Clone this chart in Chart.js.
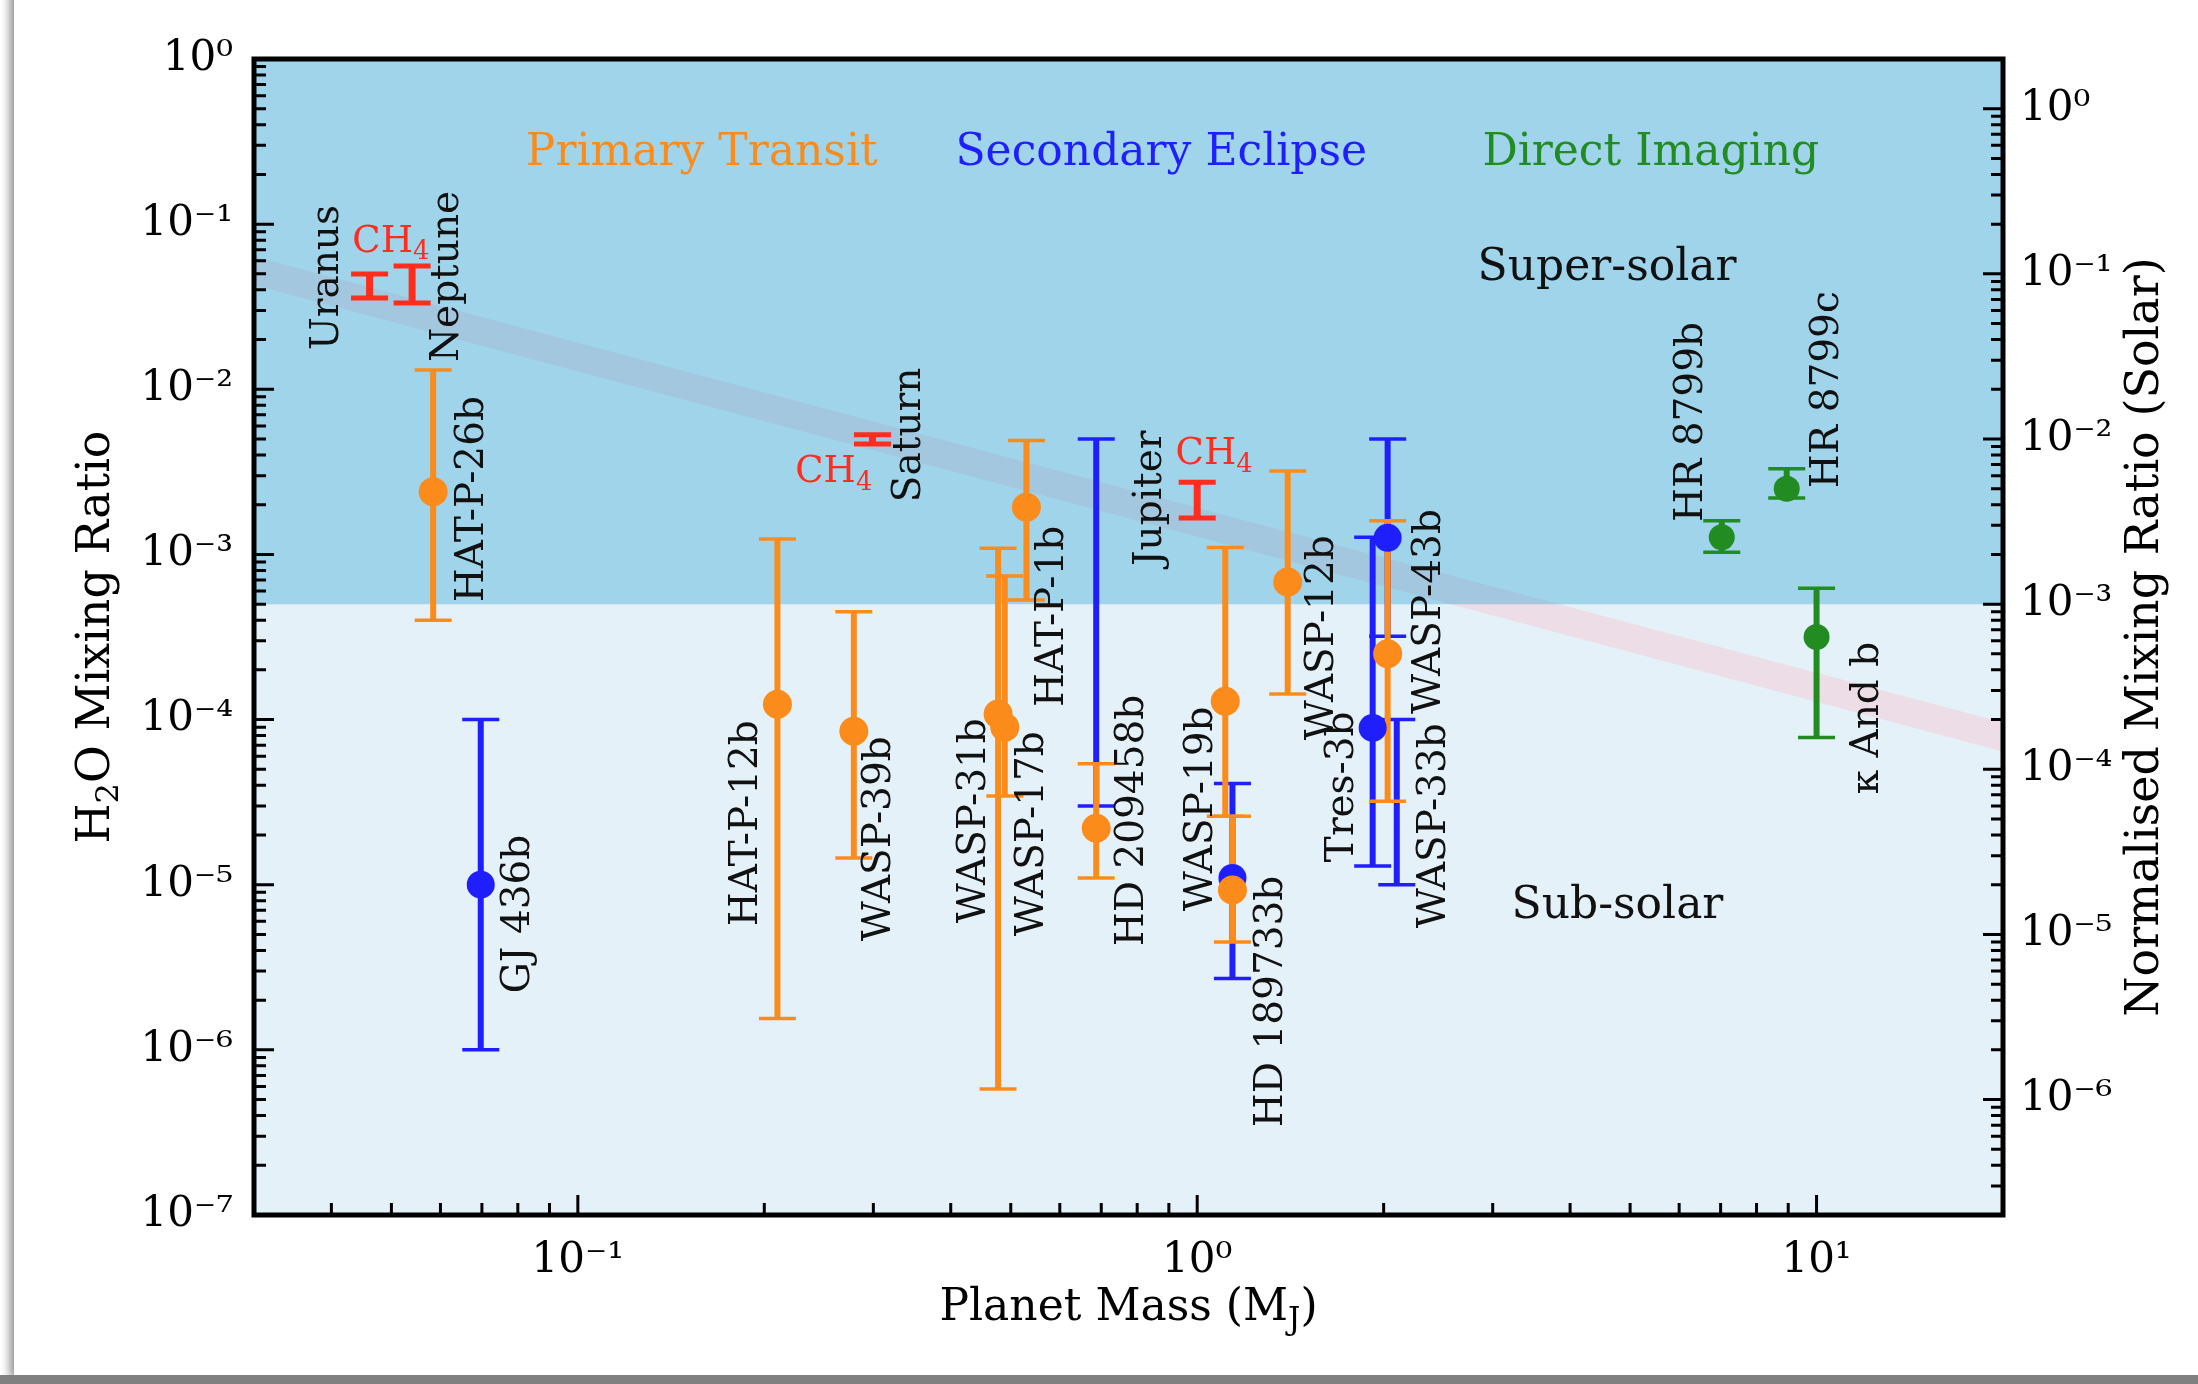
<!DOCTYPE html>
<html><head><meta charset="utf-8">
<script src="https://cdn.jsdelivr.net/npm/chart.js@4.4.0/dist/chart.umd.min.js"></script>
<style>
html,body{margin:0;padding:0;background:#fff;width:2198px;height:1384px;overflow:hidden;}
#card{position:absolute;left:14px;top:-20px;width:2200px;height:1395px;background:#fff;box-shadow:-4px 3px 9px rgba(0,0,0,0.45);}
#strip{position:absolute;left:0;top:1375px;width:2198px;height:9px;background:#808080;}
#wrap{position:absolute;left:0;top:0;width:2198px;height:1384px;}
</style></head><body>
<div id="card"></div><div id="strip"></div>
<div id="wrap"><canvas id="c" width="2198" height="1384"></canvas></div>
<script>
// ---------------- data ----------------
const transitNames = ['HAT-P-26b','HAT-P-12b','WASP-39b','WASP-31b','WASP-17b','HAT-P-1b','HD 209458b','WASP-19b','HD 189733b','WASP-12b','WASP-43b'];
const transitMass  = [0.0584,0.210,0.279,0.477,0.489,0.530,0.687,1.11,1.14,1.40,2.03];
const transitH2O   = [2.4e-3,1.24e-4,8.5e-5,1.08e-4,9.0e-5,1.93e-3,2.2e-5,1.29e-4,9.3e-6,6.8e-4,2.5e-4];
const transitLow   = [4.0e-4,1.55e-6,1.45e-5,5.8e-7,3.45e-5,5.3e-4,1.1e-5,2.6e-5,4.5e-6,1.43e-4,3.2e-5];
const transitHigh  = [1.31e-2,1.24e-3,4.5e-4,1.09e-3,7.4e-4,4.9e-3,5.4e-5,1.1e-3,2.6e-5,3.2e-3,1.6e-3];

const eclipseNames = ['GJ 436b','HD 209458b','HD 189733b','Tres-3b','WASP-43b','WASP-33b'];
const eclipseMass  = [0.0697,0.687,1.14,1.92,2.03,2.10];
const eclipseH2O   = [1.0e-5,null,1.1e-5,8.9e-5,1.26e-3,null];
const eclipseLow   = [1.0e-6,3.0e-5,2.7e-6,1.3e-5,3.2e-4,1.0e-5];
const eclipseHigh  = [1.0e-4,5.0e-3,4.1e-5,1.27e-3,5.0e-3,1.0e-4];

const imagingNames = ['HR 8799b','HR 8799c','κ And b'];
const imagingMass  = [7.03,8.95,10.0];
const imagingH2O   = [1.27e-3,2.5e-3,3.16e-4];
const imagingLow   = [1.03e-3,2.2e-3,7.8e-5];
const imagingHigh  = [1.6e-3,3.3e-3,6.25e-4];

const solarNames   = ['Uranus','Neptune','Saturn','Jupiter'];
const solarMass    = [0.0461,0.054,0.299,1.0];
const solarCH4Low  = [0.0357,0.0333,4.66e-3,1.66e-3];
const solarCH4High = [0.0499,0.0557,5.3e-3,2.74e-3];

const bandMass = [0.03,20];
const bandLow  = [0.0428,6.4e-5];
const bandHigh = [0.0637,9.6e-5];

const SOLAR_H2O = 5e-4;
const X_MIN = 0.03, X_MAX = 20, Y_MIN = 1e-7, Y_MAX = 1;
const Y2_MIN = 2e-7, Y2_MAX = 2;

// text annotations (data coordinates)
const labelText = ['Uranus','Neptune','HAT-P-26b','GJ 436b','HAT-P-12b','WASP-39b','WASP-31b','WASP-17b','HAT-P-1b','Saturn','HD 209458b','Jupiter','WASP-19b','HD 189733b','WASP-12b','Tres-3b','WASP-43b','WASP-33b','HR 8799b','HR 8799c','κ And b'];
const labelMass = [0.04096,0.0640,0.07022,0.08332,0.1946,0.3192,0.4545,0.5639,0.6074,0.3569,0.8181,0.8747,1.057,1.372,1.658,1.786,2.470,2.515,6.544,10.85,12.55];
const labelH2O  = [0.01727,0.01462,5.14e-4,2.20e-6,5.6e-6,4.55e-6,5.85e-6,4.88e-6,1.19e-4,2.07e-3,4.24e-6,8.5e-4,6.9e-6,3.4e-7,7.5e-5,1.37e-5,1.08e-4,5.45e-6,1.57e-3,2.52e-3,3.53e-5];

const headText = ['Primary Transit','Secondary Eclipse','Direct Imaging'];
const headMass = [0.1585,0.875,5.40];
const headH2O  = [0.228,0.228,0.228];

const regionText = ['Super-solar','Sub-solar'];
const regionMass = [4.59,4.77];
const regionH2O  = [0.0459,6.27e-6];

const ch4Mass = [0.0499,0.259,1.065];
const ch4H2O  = [0.0678,2.74e-3,3.52e-3];

// ---------------- style ----------------
const F = 'DejaVu Serif';
const ORANGE = '#fb8c1c', BLUE = '#1f1ffd', GREEN = '#228b22', RED = '#ff2d1e';

const datasets = [];
datasets.push({type:'line', data: bandMass.map((m,i)=>({x:m,y:bandHigh[i]})), borderColor:'rgba(0,0,0,0)', borderWidth:1, pointRadius:0, fill:'+1', backgroundColor:'rgba(245,192,205,0.42)', order:100});
datasets.push({type:'line', data: bandMass.map((m,i)=>({x:m,y:bandLow[i]})), borderColor:'rgba(0,0,0,0)', borderWidth:1, pointRadius:0, fill:false, order:100});
datasets.push({type:'line', data:[{x:X_MIN,y:SOLAR_H2O},{x:X_MAX,y:SOLAR_H2O}], borderColor:'rgba(0,0,0,0)', borderWidth:1, pointRadius:0, fill:'end', backgroundColor:'rgba(29,158,206,0.35)', order:90});

function bars(mass, low, high, color, w, capW, order){
  mass.forEach((m,i)=>{
    datasets.push({type:'line', data:[{x:m,y:low[i]},{x:m,y:high[i]}], showLine:true,
      borderColor:color, borderWidth:w, pointStyle:'line', pointRadius:18.5, pointBorderWidth:capW,
      pointBorderColor:color, pointBackgroundColor:color, fill:false, order});
  });
}
function markers(mass, vals, color, r, order){
  const data = [];
  mass.forEach((m,i)=>{ if (vals[i]!=null) data.push({x:m,y:vals[i]}); });
  datasets.push({type:'scatter', data, showLine:false, pointRadius:r, pointBackgroundColor:color, pointBorderWidth:0, order});
}
bars(eclipseMass, eclipseLow, eclipseHigh, BLUE, 6, 3.5, 50);
bars(transitMass, transitLow, transitHigh, ORANGE, 6, 3.5, 40);
bars(imagingMass, imagingLow, imagingHigh, GREEN, 6, 3.5, 30);
bars(solarMass, solarCH4Low, solarCH4High, RED, 7, 5, 20);
markers(eclipseMass, eclipseH2O, BLUE, 14, 12);
markers(transitMass, transitH2O, ORANGE, 14.5, 11);
markers(imagingMass, imagingH2O, GREEN, 13, 10);

const SUP = {'0':'⁰','1':'¹','2':'²','3':'³','4':'⁴','5':'⁵','6':'⁶','7':'⁷','8':'⁸','9':'⁹','-':'⁻'};
function powLabel(v){
  const e = Math.log10(v), r = Math.round(e);
  if (Math.abs(e-r) > 1e-6) return '';
  return '10' + String(r).split('').map(c=>SUP[c]).join('');
}

function drawRich(ctx, segs, x, y, size, align){
  let w = 0;
  segs.forEach(s=>{ ctx.font = (s.sub? size*0.7 : size) + 'px "' + F + '"'; s.w = ctx.measureText(s.t).width; w += s.w; });
  let cx = align==='center' ? x - w/2 : x;
  segs.forEach(s=>{
    ctx.font = (s.sub? size*0.7 : size) + 'px "' + F + '"';
    ctx.fillText(s.t, cx, s.sub ? y + size*0.2 : y);
    cx += s.w;
  });
}

function majorMinor(min, max){
  const out = [];
  for (let e = Math.floor(Math.log10(min)) - 1; e <= Math.ceil(Math.log10(max)); e++)
    for (let m = 1; m <= 9; m++){
      const v = m*Math.pow(10,e);
      if (v > min*1.0001 && v < max*0.9999) out.push([v, m===1]);
    }
  return out;
}

const annot = {
  id:'annot',
  beforeDraw(chart){
    const {ctx, chartArea:a} = chart;
    ctx.save(); ctx.fillStyle = '#e5f1f9';
    ctx.fillRect(a.left, a.top, a.right-a.left, a.bottom-a.top); ctx.restore();
  },
  afterDatasetsDraw(chart){
    const {ctx, scales:{x, y}} = chart;
    ctx.save();
    ctx.textBaseline = 'alphabetic';
    ctx.fillStyle = '#111';
    ctx.font = '39px "' + F + '"';
    labelText.forEach((t,i)=>{
      const px = x.getPixelForValue(labelMass[i]), py = y.getPixelForValue(labelH2O[i]);
      ctx.save(); ctx.translate(px, py); ctx.rotate(-Math.PI/2);
      ctx.textAlign = 'left'; ctx.fillText(t, 0, 0); ctx.restore();
    });
    ctx.textAlign = 'left';
    const hc = [ORANGE, BLUE, GREEN];
    headText.forEach((t,i)=>{
      ctx.fillStyle = hc[i];
      drawRich(ctx, [{t}], x.getPixelForValue(headMass[i]), y.getPixelForValue(headH2O[i]), 44, 'center');
    });
    ctx.fillStyle = '#111';
    regionText.forEach((t,i)=>{
      drawRich(ctx, [{t}], x.getPixelForValue(regionMass[i]), y.getPixelForValue(regionH2O[i]), 44, 'center');
    });
    ctx.fillStyle = RED;
    ch4Mass.forEach((m,i)=>{
      drawRich(ctx, [{t:'CH'},{t:'4',sub:true}], x.getPixelForValue(m), y.getPixelForValue(ch4H2O[i]), 37, 'center');
    });
    ctx.restore();
  },
  afterDraw(chart){
    const {ctx, chartArea:a, scales} = chart;
    ctx.save();
    ctx.strokeStyle = '#000'; ctx.lineWidth = 3;
    ctx.beginPath();
    majorMinor(X_MIN, X_MAX).forEach(([v,maj])=>{
      const p = scales.x.getPixelForValue(v);
      ctx.moveTo(p, a.bottom); ctx.lineTo(p, a.bottom - (maj?20:12));
    });
    majorMinor(Y_MIN, Y_MAX).forEach(([v,maj])=>{
      const p = scales.y.getPixelForValue(v);
      ctx.moveTo(a.left, p); ctx.lineTo(a.left + (maj?20:12), p);
    });
    majorMinor(Y2_MIN, Y2_MAX).forEach(([v,maj])=>{
      const p = scales.y2.getPixelForValue(v);
      ctx.moveTo(a.right, p); ctx.lineTo(a.right - (maj?20:12), p);
    });
    ctx.stroke();
    ctx.lineWidth = 5;
    ctx.strokeRect(a.left, a.top, a.right-a.left, a.bottom-a.top);
    ctx.fillStyle = '#000';
    ctx.textBaseline = 'alphabetic'; ctx.textAlign = 'left';
    drawRich(ctx, [{t:'Planet Mass (M'},{t:'J',sub:true},{t:')'}], (a.left+a.right)/2, 1320, 44, 'center');
    ctx.save(); ctx.translate(109, (a.top+a.bottom)/2); ctx.rotate(-Math.PI/2);
    drawRich(ctx, [{t:'H'},{t:'2',sub:true},{t:'O Mixing Ratio'}], 0, 0, 46, 'center');
    ctx.restore();
    ctx.save(); ctx.translate(2158, (a.top+a.bottom)/2); ctx.rotate(-Math.PI/2);
    drawRich(ctx, [{t:'Normalised Mixing Ratio (Solar)'}], 0, 0, 46, 'center');
    ctx.restore();
    ctx.restore();
  }
};

const tickFont = {family:F, size:42};
new Chart(document.getElementById('c'), {
  type:'scatter',
  data:{datasets},
  options:{
    responsive:false, devicePixelRatio:1, animation:false, events:[],
    layout:{padding:{top:59,left:0,right:0,bottom:0}},
    plugins:{legend:{display:false}, tooltip:{enabled:false}},
    scales:{
      x:{type:'logarithmic', position:'bottom', min:X_MIN, max:X_MAX,
         grid:{display:false}, border:{display:false},
         ticks:{autoSkip:false, maxRotation:0, minRotation:0, padding:13, font:tickFont, color:'#000', callback:powLabel},
         afterFit(s){ s.height = 169; }},
      y:{type:'logarithmic', position:'left', min:Y_MIN, max:Y_MAX,
         grid:{display:false}, border:{display:false},
         ticks:{autoSkip:false, padding:13, font:tickFont, color:'#000', callback:powLabel},
         afterFit(s){ s.width = 254; }},
      y2:{type:'logarithmic', position:'right', min:Y2_MIN, max:Y2_MAX,
         grid:{display:false}, border:{display:false},
         ticks:{autoSkip:false, padding:9, font:tickFont, color:'#000', callback:powLabel},
         afterFit(s){ s.width = 195; }}
    }
  },
  plugins:[annot]
});
</script>
</body></html>
